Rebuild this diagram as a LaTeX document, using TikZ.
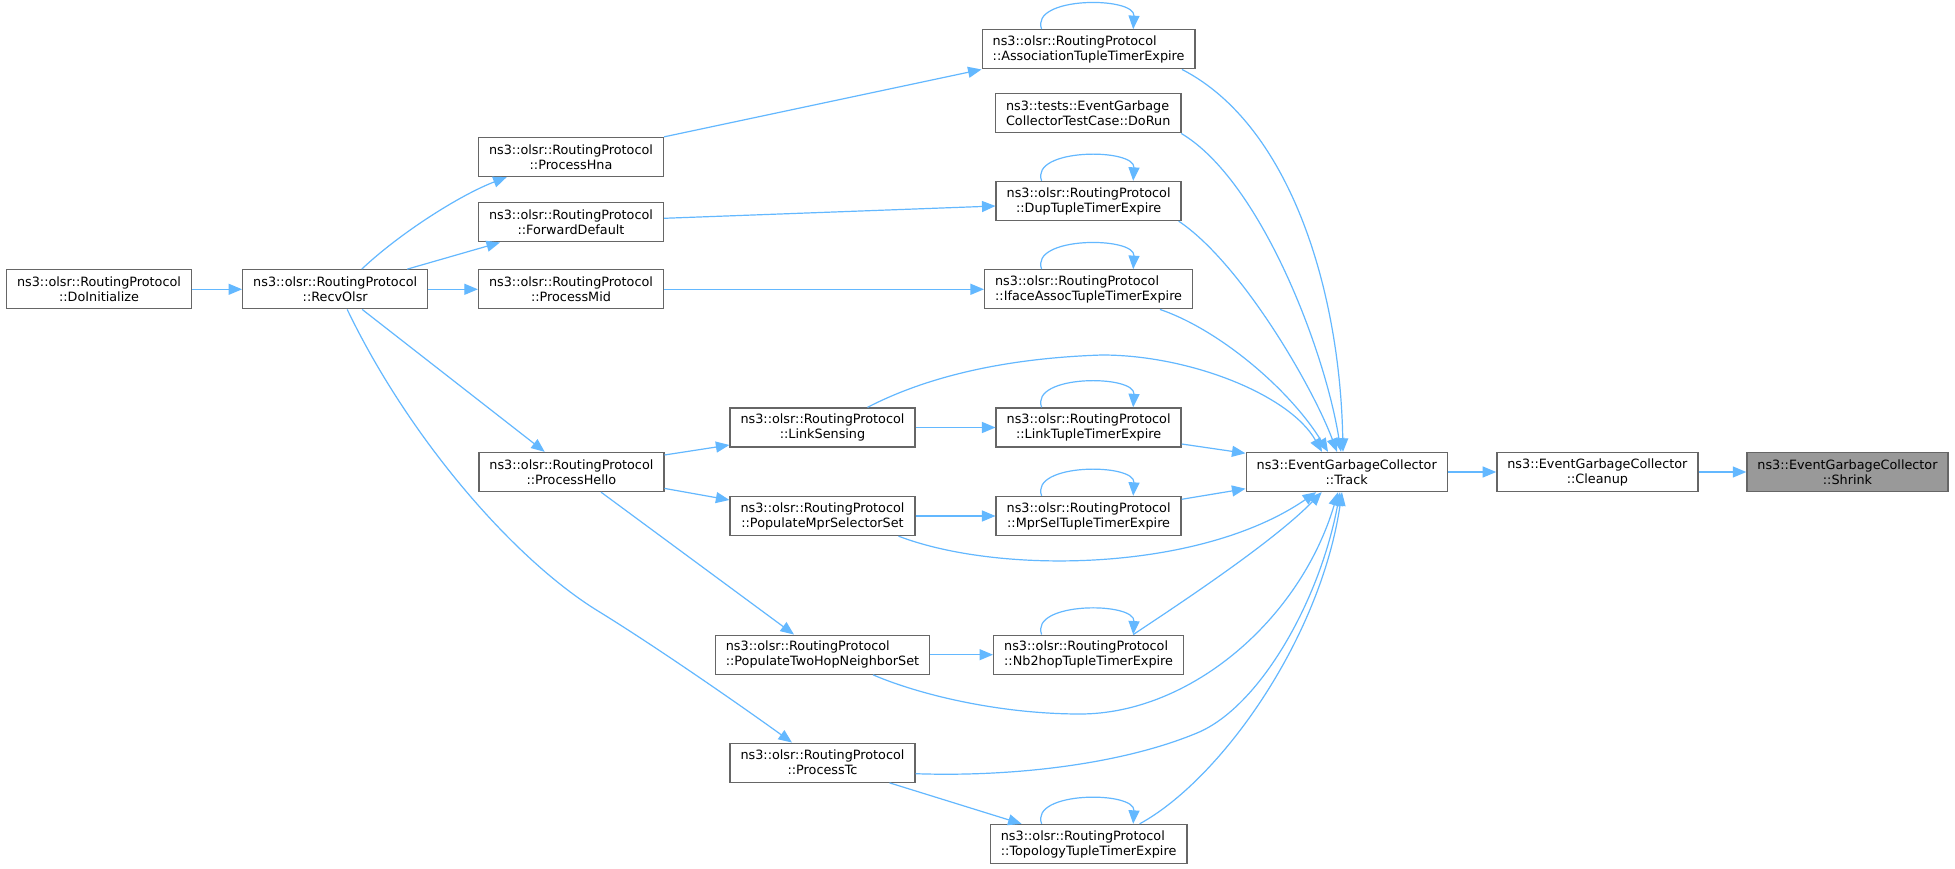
\documentclass[tikz,border=0pt]{standalone}
\usepackage{fontspec}
\setmainfont{DejaVu Sans}
\usetikzlibrary{arrows.meta}
\definecolor{callblue}{HTML}{63B8FF}
\definecolor{boxline}{HTML}{666666}
\definecolor{boxhl}{HTML}{999999}
\begin{document}
\begin{tikzpicture}[x=1pt,y=-1pt,
fn/.style={draw=boxline,line width=1.3pt,fill=white,inner xsep=10.5pt,inner ysep=0pt,minimum height=39pt,align=center,font=\fontsize{12.8}{15}\selectfont},
fnl/.style={fn,align=left},
fnhl/.style={fn,fill=boxhl},
call/.style={draw=callblue,line width=1.2pt,-{Triangle[length=13.5pt,width=11pt]}}]
\useasboundingbox[fill=white] (0,0) rectangle (1955,869);
\node[fn] (doinit) at (99,289.3) {ns3::olsr::RoutingProtocol\\::DoInitialize};
\node[fn] (recv) at (335.2,289.3) {ns3::olsr::RoutingProtocol\\::RecvOlsr};
\node[fn] (hna) at (571,157) {ns3::olsr::RoutingProtocol\\::ProcessHna};
\node[fn] (fwd) at (571,222.3) {ns3::olsr::RoutingProtocol\\::ForwardDefault};
\node[fn] (mid) at (571,289.3) {ns3::olsr::RoutingProtocol\\::ProcessMid};
\node[fn] (hello) at (571.4,472) {ns3::olsr::RoutingProtocol\\::ProcessHello};
\node[fn] (lsense) at (822.5,427.5) {ns3::olsr::RoutingProtocol\\::LinkSensing};
\node[fn] (mprsel) at (822.5,516) {ns3::olsr::RoutingProtocol\\::PopulateMprSelectorSet};
\node[fnl] (twohop) at (822.5,654.7) {ns3::olsr::RoutingProtocol\\::PopulateTwoHopNeighborSet};
\node[fn] (tc) at (822.5,762.7) {ns3::olsr::RoutingProtocol\\::ProcessTc};
\node[fnl] (assoc) at (1088.6,49.3) {ns3::olsr::RoutingProtocol\\::AssociationTupleTimerExpire};
\node[fnl] (dorun) at (1088.2,113.3) {ns3::tests::EventGarbage\\CollectorTestCase::DoRun};
\node[fn] (dup) at (1088.6,201) {ns3::olsr::RoutingProtocol\\::DupTupleTimerExpire};
\node[fnl] (iface) at (1088.6,289.3) {ns3::olsr::RoutingProtocol\\::IfaceAssocTupleTimerExpire};
\node[fn] (linkt) at (1088.6,427.5) {ns3::olsr::RoutingProtocol\\::LinkTupleTimerExpire};
\node[fn] (mprt) at (1088.6,516) {ns3::olsr::RoutingProtocol\\::MprSelTupleTimerExpire};
\node[fnl] (nb2) at (1088.6,654.7) {ns3::olsr::RoutingProtocol\\::Nb2hopTupleTimerExpire};
\node[fnl] (topo) at (1088.6,844) {ns3::olsr::RoutingProtocol\\::TopologyTupleTimerExpire};
\node[fn] (track) at (1346.7,472) {ns3::EventGarbageCollector\\::Track};
\node[fn] (cleanup) at (1597.4,472) {ns3::EventGarbageCollector\\::Cleanup};
\node[fnhl] (shrink) at (1847.5,472) {ns3::EventGarbageCollector\\::Shrink};
\draw[call] (doinit) -- (recv);
\draw[call] ([shift={(26.5,0)}]recv.north) .. controls (400,233) and (460,195) .. ([shift={(-64.3,0)}]hna.south);
\draw[call] ([shift={(72,0)}]recv.north) -- ([shift={(-71,0)}]fwd.south);
\draw[call] (recv) -- (mid);
\draw[call] ([shift={(27,0)}]recv.south) -- ([shift={(-26.7,0)}]hello.north);
\draw[call] ([shift={(12,0)}]recv.south) .. controls (410,440) and (515,560) .. (598,611) .. controls (655,646) and (740,705) .. ([shift={(-30.5,0)}]tc.north);
\draw[call] (hna.north east) -- (assoc.south west);
\draw[call] ([shift={(0,-4)}]fwd.east) -- ([shift={(0,5)}]dup.west);
\draw[call] (mid) -- (iface);
\draw[call] ([shift={(0,-17)}]hello.east) -- ([shift={(0,17.5)}]lsense.west);
\draw[call] ([shift={(0,16.4)}]hello.east) -- ([shift={(0,-16)}]mprsel.west);
\draw[call] ([shift={(29.6,0)}]hello.south) -- ([shift={(-28.5,0)}]twohop.north);
\draw[call] (lsense) -- (linkt);
\draw[call] (mprsel) -- (mprt);
\draw[call] (twohop) -- (nb2);
\draw[call] ([shift={(67,0)}]tc.south) -- ([shift={(-67,0)}]topo.north);
\draw[call] ([shift={(-47,0)}]assoc.north) .. controls +(-12,-33) and +(2,-33) .. ([shift={(44.6,0)}]assoc.north);
\draw[call] ([shift={(-47,0)}]dup.north) .. controls +(-12,-33) and +(2,-33) .. ([shift={(44.6,0)}]dup.north);
\draw[call] ([shift={(-47,0)}]iface.north) .. controls +(-12,-33) and +(2,-33) .. ([shift={(44.6,0)}]iface.north);
\draw[call] ([shift={(-47,0)}]linkt.north) .. controls +(-12,-33) and +(2,-33) .. ([shift={(44.6,0)}]linkt.north);
\draw[call] ([shift={(-47,0)}]mprt.north) .. controls +(-12,-33) and +(2,-33) .. ([shift={(44.6,0)}]mprt.north);
\draw[call] ([shift={(-47,0)}]nb2.north) .. controls +(-12,-33) and +(2,-33) .. ([shift={(44.6,0)}]nb2.north);
\draw[call] ([shift={(-47,0)}]topo.north) .. controls +(-12,-33) and +(2,-33) .. ([shift={(44.6,0)}]topo.north);
\draw[call] ([shift={(93.4,0)}]assoc.south) .. controls (1290,125) and (1340,290) .. ([shift={(-3.7,0)}]track.north);
\draw[call] ([shift={(93,0)}]dorun.south) .. controls (1260,180) and (1325,350) .. ([shift={(-5.7,0)}]track.north);
\draw[call] ([shift={(90,0)}]dup.south) .. controls (1240,262) and (1312,385) .. ([shift={(-9.7,0)}]track.north);
\draw[call] ([shift={(71.4,0)}]iface.south) .. controls (1220,330) and (1290,390) .. ([shift={(-18.7,0)}]track.north);
\draw[call] ([shift={(45,0)}]lsense.north) .. controls (930,375) and (1010,358) .. (1102,355) .. controls (1190,355) and (1290,395) .. ([shift={(-24.7,0)}]track.north);
\draw[call] ([shift={(0,16.5)}]linkt.east) -- ([shift={(0,-18.7)}]track.west);
\draw[call] ([shift={(0,-16.7)}]mprt.east) -- ([shift={(0,16.7)}]track.west);
\draw[call] ([shift={(76,0)}]mprsel.south) .. controls (1000,575) and (1200,572) .. ([shift={(-30.5,0)}]track.south);
\draw[call] ([shift={(44.6,0)}]nb2.north) .. controls (1190,597) and (1275,540) .. ([shift={(-25,0)}]track.south);
\draw[call] ([shift={(50.5,0)}]twohop.south) .. controls (920,695) and (1000,714) .. (1080,714) .. controls (1190,714) and (1300,620) .. ([shift={(-8.7,0)}]track.south);
\draw[call] ([shift={(0,11)}]tc.east) .. controls (1010,777) and (1120,765) .. (1197,733) .. controls (1260,707) and (1320,600) .. ([shift={(-6.7,0)}]track.south);
\draw[call] ([shift={(51,0)}]topo.north) .. controls (1220,780) and (1320,640) .. ([shift={(-4.7,0)}]track.south);
\draw[call] (track) -- (cleanup);
\draw[call] (cleanup) -- (shrink);
\end{tikzpicture}
\end{document}
